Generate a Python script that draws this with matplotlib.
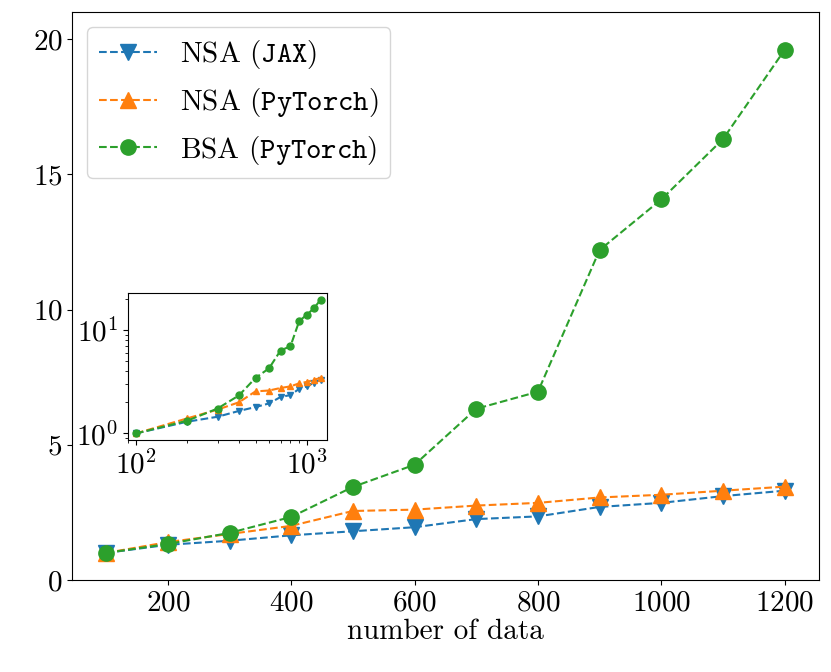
import matplotlib
matplotlib.use("Agg")
import matplotlib.pyplot as plt

plt.rcParams.update({
    "font.family": "cmr10",
    "mathtext.fontset": "cm",
    "axes.formatter.use_mathtext": True,
    "font.size": 21,
})

n_data = [100, 200, 300, 400, 500, 600, 700, 800, 900, 1000, 1100, 1200]
nsa_jax = [1.0, 1.3, 1.45, 1.65, 1.8, 1.95, 2.25, 2.35, 2.7, 2.85, 3.1, 3.3]
nsa_torch = [1.0, 1.4, 1.7, 2.0, 2.55, 2.6, 2.75, 2.85, 3.05, 3.15, 3.3, 3.45]
bsa_torch = [1.0, 1.33, 1.74, 2.33, 3.44, 4.26, 6.33, 6.96, 12.2, 14.07, 16.3, 19.6]

fig = plt.figure(figsize=(8.31, 6.72), dpi=100)
ax = fig.add_axes([0.087, 0.137, 0.898, 0.845])

ax.plot(n_data, nsa_jax, "--v", color="C0", ms=11, label=r"NSA ($\mathtt{JAX}$)")
ax.plot(n_data, nsa_torch, "--^", color="C1", ms=11, label=r"NSA ($\mathtt{PyTorch}$)")
ax.plot(n_data, bsa_torch, "--o", color="C2", ms=11, label=r"BSA ($\mathtt{PyTorch}$)")
ax.set_ylim(0, 21)
ax.set_xlim(45, 1255)
ax.set_xticks([200, 400, 600, 800, 1000, 1200])
ax.set_yticks([0, 5, 10, 15, 20])
ax.set_xlabel("number of data", labelpad=2)
ax.legend(loc="upper left", fontsize=21, handlelength=2)

ins = fig.add_axes([0.154, 0.345, 0.239, 0.219])
ins.loglog(n_data, nsa_jax, "--v", color="C0", ms=5)
ins.loglog(n_data, nsa_torch, "--^", color="C1", ms=5)
ins.loglog(n_data, bsa_torch, "--o", color="C2", ms=5)
ins.tick_params(labelsize=21)
ins.set_xlim(90, 1300)

fig.savefig("out.png", dpi=100)
